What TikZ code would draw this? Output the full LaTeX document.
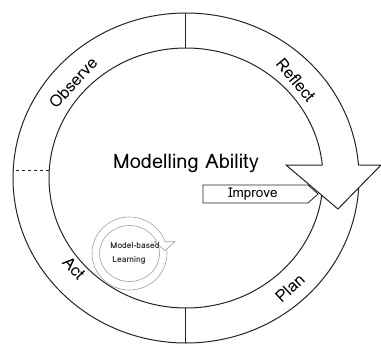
\documentclass[tikz,border=0pt]{standalone}
\usepackage{fontspec}
\setmainfont{Loma}
\usepackage{xcolor}
\definecolor{ringline}{RGB}{35,35,35}
\definecolor{lgray}{RGB}{160,160,160}
\definecolor{dgray}{RGB}{50,50,50}

\begin{document}
\begin{tikzpicture}[x=1pt,y=1pt,
    ring/.style={draw=ringline,line width=1pt},
    ringlabel/.style={font=\fontsize{16.5}{16.5}\selectfont},
    loopline/.style={draw=lgray,line width=0.6pt}]
 \useasboundingbox (-186,-171) rectangle (195,178);

 % the cycle ring
 \draw[ring] (0,0) ellipse [x radius=173pt, y radius=165pt];
 \draw[ring] (0,0) ellipse [x radius=137pt, y radius=130pt];

 \coordinate (topin) at (90:137pt and 130pt);
 \coordinate (topout) at (90:173pt and 165pt);
 \coordinate (botin) at (270:137pt and 130pt);
 \coordinate (botout) at (270:173pt and 165pt);
 \coordinate (leftin) at (-136.7,8);
 \coordinate (leftout) at (-172.8,8);
 \draw[ring] (topin) -- (topout);
 \draw[ring] (botin) -- (botout);
 \draw[ring,dashed] (leftin) -- (leftout);

 \node[ringlabel,rotate=47] (observe) at (-113,95) {Observe};
 \node[ringlabel,rotate=-50] (reflect) at (110,98) {Reflect};
 \node[ringlabel,rotate=-47] (act) at (-112,-90) {Act};
 \node[ringlabel,rotate=43] (plan) at (104,-110) {Plan};

 % head of the ring arrow
 \coordinate (headl) at (100,13);
 \coordinate (headr) at (195,13);
 \coordinate (headtip) at (152,-31);
 \coordinate (headin) at (136.3,13);
 \coordinate (headout) at (172.5,13);
 \fill[white] (headl) -- (headr) -- (headtip) -- cycle;
 \draw[ring,line join=miter] (headin) -- (headl) -- (headtip) -- (headr) -- (headout);

 \node[font=\fontsize{20}{20}\selectfont] (ability) at (0,15) {Modelling Ability};

 \draw[ring,line width=0.8pt] (17,-7) -- (122,-7) -- (132,-16) -- (122,-25) -- (17,-25) -- cycle;
 \node[font=\fontsize{13.5}{13.5}\selectfont] (improve) at (67,-16) {Improve};

 % small learning loop
 \begin{scope}[shift={(-56.5,-75.5)}]
  \draw[loopline] (0,0) ellipse [x radius=37.5pt, y radius=36.5pt];
  \draw[loopline] (0,0) ellipse [x radius=30pt, y radius=28pt];
  \fill[white] (25,11.8) -- (45.5,11.8) -- (35.5,2.8) -- cycle;
  \draw[loopline] (27.2,11.8) -- (25,11.8) -- (35.5,2.8) -- (45.5,11.8) -- (35.5,11.8);
 \end{scope}
 \node[font=\fontsize{8.5}{8.5}\selectfont\bfseries,text=dgray] (model) at (-51,-67) {Model-based};
 \node[font=\fontsize{8.5}{8.5}\selectfont\bfseries,text=dgray] (learning) at (-57,-82) {Learning};
\end{tikzpicture}
\end{document}
